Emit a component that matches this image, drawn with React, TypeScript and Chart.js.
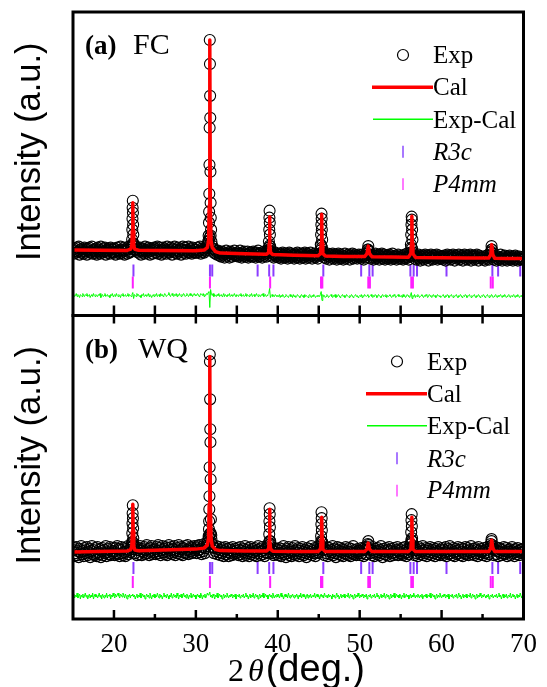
import React, { useEffect, useRef } from "react";
import { Chart, registerables } from "chart.js";
Chart.register(...registerables);

// ---------- data ----------
const X_START = 15;
const X_STEP = 0.1; // scan step of the tabulated experimental / difference curves (15..70)

// Panel (a) FC : experimental scan (background band)
const expBandA = [
  66, 62, 67, 65, 63, 68, 64, 69, 61, 66, 63, 67, 65, 62, 68, 64, 66, 61, 67, 65, 68, 63, 64, 69, 62, 66, 65, 63, 67, 61, 68, 64, 66, 62, 69, 65, 63, 67, 64, 68, 61, 66, 63, 65, 67, 62, 68, 64, 66, 63,
  63, 67, 61, 66, 68, 64, 65, 62, 69, 63, 66, 64, 68, 61, 65, 67, 62, 66, 69, 63, 64, 68, 70, 72, 70, 66, 66, 69, 64, 67, 63, 65, 68, 61, 66, 64, 67, 62, 69, 65, 63, 66, 68, 64, 61, 67, 65, 62, 66, 68,
  67, 63, 66, 69, 62, 65, 68, 64, 61, 66, 68, 63, 67, 65, 62, 69, 64, 66, 63, 68, 65, 61, 67, 64, 69, 63, 66, 62, 68, 65, 64, 67, 61, 66, 69, 63, 65, 68, 62, 66, 64, 69, 63, 67, 65, 62, 68, 64, 66, 63,
  66, 63, 68, 64, 65, 69, 62, 67, 64, 66, 63, 68, 65, 67, 70, 72, 75, 78, 80, 74, 70, 67, 63, 66, 62, 64, 61, 65, 63, 60, 62, 59, 64, 61, 63, 58, 62, 65, 60, 63, 61, 58, 64, 62, 59, 63, 61, 65, 60, 62,
  60, 63, 59, 62, 65, 61, 58, 63, 60, 64, 62, 59, 61, 64, 58, 62, 60, 63, 61, 59, 64, 60, 62, 58, 63, 61, 65, 59, 62, 60, 63, 58, 61, 64, 60, 62, 59, 63, 65, 68, 70, 67, 64, 60, 62, 58, 61, 63, 59, 61,
  61, 58, 62, 59, 57, 61, 63, 60, 58, 62, 59, 61, 57, 60, 63, 58, 62, 60, 59, 61, 57, 62, 60, 58, 63, 59, 61, 57, 60, 62, 58, 61, 59, 63, 57, 60, 62, 58, 61, 59, 63, 60, 57, 61, 59, 62, 58, 60, 61, 57,
  60, 62, 65, 70, 68, 64, 61, 58, 61, 57, 60, 62, 59, 56, 61, 58, 60, 62, 57, 59, 61, 58, 56, 60, 62, 59, 57, 61, 58, 60, 56, 59, 62, 57, 60, 58, 61, 59, 56, 60, 58, 62, 57, 59, 61, 58, 60, 57, 59, 61,
  58, 60, 57, 61, 59, 56, 60, 58, 62, 62, 66, 65, 61, 57, 59, 61, 58, 56, 60, 62, 57, 59, 58, 61, 56, 60, 58, 62, 57, 59, 61, 56, 58, 60, 57, 59, 61, 58, 56, 60, 62, 57, 59, 58, 60, 56, 59, 61, 57, 58,
  59, 57, 60, 56, 58, 61, 57, 59, 62, 58, 56, 60, 63, 68, 67, 63, 60, 57, 59, 56, 60, 58, 61, 57, 55, 59, 58, 60, 56, 59, 61, 57, 58, 60, 55, 59, 57, 61, 58, 56, 60, 57, 59, 58, 61, 56, 58, 60, 57, 59,
  57, 59, 56, 60, 58, 55, 59, 61, 57, 58, 60, 56, 59, 57, 61, 58, 55, 60, 57, 59, 58, 61, 56, 59, 57, 60, 55, 58, 61, 57, 59, 56, 60, 58, 57, 61, 55, 59, 58, 60, 56, 59, 57, 61, 58, 55, 60, 57, 59, 58,
  58, 56, 59, 55, 58, 60, 57, 59, 56, 60, 63, 66, 62, 59, 56, 58, 60, 55, 57, 59, 56, 58, 61, 57, 55, 59, 57, 60, 56, 58, 55, 59, 57, 60, 56, 58, 57, 55, 59, 57, 60, 56, 58, 55, 57, 59, 56, 58, 57, 56,
  57,
];
// Panel (a): experimental points on the Bragg peaks [2theta, intensity]
const expPeaksA = [
  [22.22, 76], [22.24, 86], [22.26, 97], [22.28, 108], [22.3, 115], [22.32, 103], [22.34, 91], [22.36, 81], [22.4, 72],
  [31.5, 74], [31.56, 80], [31.6, 93], [31.62, 104], [31.64, 122], [31.66, 151], [31.68, 188], [31.7, 276], [31.72, 252],
  [31.74, 220], [31.76, 198], [31.78, 144], [31.8, 113], [31.82, 98], [31.86, 86],
  [38.92, 74], [38.96, 86], [38.98, 98], [39.0, 105], [39.02, 93], [39.04, 81], [39.08, 69],
  [45.25, 71], [45.29, 81], [45.32, 91], [45.34, 102], [45.36, 97], [45.38, 86], [45.42, 76],
  [51.0, 66], [51.05, 69.5], [51.1, 64],
  [56.25, 71], [56.29, 81], [56.32, 91], [56.35, 99], [56.37, 96], [56.4, 86], [56.44, 76],
  [66.05, 64], [66.1, 69.5], [66.15, 66],
];
// Panel (a): calculated profile [2theta, intensity]
const calA = [
  [15, 65.5], [18, 65.4], [21.6, 65.2], [22.05, 66.5], [22.18, 70], [22.25, 85], [22.3, 113], [22.35, 85], [22.42, 70],
  [22.55, 66.3], [23, 65.4], [26, 65.2], [30, 64.8], [31.0, 65.5], [31.4, 68], [31.55, 75], [31.63, 110], [31.7, 276],
  [31.77, 110], [31.85, 75], [32.0, 68], [32.4, 64], [33, 62.5], [36, 61.8], [38.6, 61.3], [38.88, 63], [38.96, 72],
  [39.0, 99], [39.04, 72], [39.12, 63], [39.4, 61], [42, 60.3], [44.9, 59.8], [45.22, 62], [45.3, 72], [45.36, 101.5],
  [45.42, 72], [45.5, 62], [45.8, 59.6], [48, 59.2], [50.6, 59], [50.9, 62], [51.05, 69.5], [51.2, 62], [51.5, 58.8],
  [54, 58.5], [55.95, 58.4], [56.25, 62], [56.32, 72], [56.37, 99.3], [56.42, 72], [56.5, 62], [56.8, 58.2], [60, 57.9],
  [63, 57.6], [65.75, 57.5], [66.0, 61], [66.12, 71], [66.25, 61], [66.5, 57.3], [68, 57.1], [70, 57],
];
// Panel (a): difference curve
const diffA = [
  20, 21, 19, 20, 22, 19, 21, 20, 18, 21, 20, 19, 22, 20, 19, 21, 20, 22, 19, 20, 21, 18, 20, 21, 19, 22, 20, 19, 21, 20, 19, 21, 20, 22, 18, 20, 21, 19, 20, 22, 19, 20, 21, 19, 20, 18, 21, 20, 22, 19,
  20, 21, 19, 22, 20, 19, 21, 20, 18, 21, 20, 22, 19, 20, 21, 19, 20, 22, 19, 21, 20, 19, 21, 23, 17, 21, 20, 19, 22, 20, 21, 19, 20, 18, 21, 20, 22, 19, 20, 21, 19, 20, 22, 19, 21, 20, 18, 20, 21, 19,
  21, 20, 22, 19, 20, 21, 19, 22, 20, 21, 19, 20, 22, 21, 19, 20, 21, 23, 20, 19, 21, 22, 20, 19, 21, 20, 22, 19, 21, 20, 22, 20, 19, 21, 20, 22, 21, 19, 20, 22, 21, 19, 20, 22, 20, 21, 19, 21, 22, 20,
  21, 20, 22, 21, 19, 20, 22, 21, 20, 22, 19, 21, 20, 22, 21, 23, 24, 8, 26, 21, 20, 22, 19, 21, 20, 19, 21, 20, 22, 19, 20, 21, 19, 20, 22, 19, 21, 20, 19, 21, 20, 22, 19, 20, 21, 19, 20, 22, 20, 19,
  21, 20, 19, 21, 20, 22, 19, 20, 21, 19, 20, 22, 19, 21, 20, 19, 21, 20, 22, 19, 20, 21, 19, 20, 22, 20, 19, 21, 20, 19, 21, 20, 22, 19, 20, 21, 19, 20, 21, 22, 27, 18, 20, 21, 19, 20, 19, 21, 20, 19,
  20, 19, 21, 18, 20, 19, 21, 20, 18, 19, 21, 20, 19, 18, 20, 21, 19, 20, 18, 21, 19, 20, 18, 19, 21, 20, 19, 18, 20, 21, 19, 20, 18, 21, 19, 20, 19, 18, 20, 21, 19, 18, 20, 19, 21, 20, 18, 19, 20, 19,
  20, 19, 21, 24, 15, 21, 19, 20, 18, 19, 21, 20, 18, 19, 20, 21, 19, 18, 20, 19, 21, 18, 20, 19, 21, 20, 18, 19, 20, 21, 19, 20, 18, 19, 21, 20, 19, 18, 20, 19, 21, 20, 18, 19, 20, 21, 19, 20, 18, 19,
  20, 19, 21, 18, 20, 19, 21, 20, 19, 20, 21, 18, 19, 20, 21, 19, 18, 20, 19, 21, 20, 18, 19, 21, 20, 19, 18, 20, 21, 19, 20, 19, 21, 18, 20, 19, 20, 21, 19, 18, 20, 19, 21, 20, 18, 19, 20, 21, 19, 20,
  19, 20, 18, 21, 19, 20, 18, 19, 21, 20, 19, 18, 20, 23, 17, 20, 19, 21, 18, 20, 19, 21, 20, 18, 19, 20, 21, 19, 18, 20, 19, 21, 20, 18, 19, 21, 20, 19, 18, 20, 21, 19, 20, 18, 19, 21, 20, 19, 20, 18,
  19, 20, 21, 19, 18, 20, 19, 21, 20, 18, 19, 20, 21, 19, 18, 20, 19, 20, 21, 19, 18, 20, 19, 21, 20, 18, 19, 20, 19, 21, 20, 18, 19, 20, 21, 19, 18, 20, 19, 20, 21, 19, 18, 20, 19, 21, 20, 18, 19, 20,
  19, 21, 20, 18, 19, 20, 21, 19, 18, 20, 19, 21, 20, 18, 19, 20, 21, 19, 18, 20, 19, 20, 21, 19, 18, 20, 19, 21, 20, 18, 19, 20, 21, 19, 18, 20, 19, 20, 21, 19, 18, 20, 19, 21, 20, 18, 19, 20, 19, 21,
  20,
];

// Panel (b) WQ
const expBandB = [
  69, 63, 71, 66, 72, 64, 68, 62, 70, 67, 73, 65, 68, 63, 71, 66, 69, 72, 64, 67, 70, 62, 68, 73, 65, 69, 64, 71, 66, 63, 72, 67, 65, 70, 62, 68, 71, 64, 69, 66, 73, 63, 67, 70, 65, 72, 64, 68, 66, 71,
  68, 64, 71, 66, 73, 65, 70, 63, 69, 72, 66, 64, 71, 67, 63, 70, 68, 73, 65, 69, 67, 72, 75, 77, 74, 70, 66, 72, 64, 69, 71, 65, 73, 68, 64, 70, 67, 72, 65, 69, 74, 66, 70, 64, 71, 68, 73, 65, 69, 67,
  70, 65, 72, 68, 74, 66, 71, 64, 69, 73, 67, 70, 65, 72, 68, 64, 71, 74, 66, 69, 72, 65, 70, 67, 73, 64, 69, 71, 66, 74, 68, 65, 72, 70, 64, 71, 67, 73, 66, 69, 74, 65, 70, 68, 72, 66, 71, 67, 73, 69,
  71, 66, 73, 69, 74, 67, 70, 65, 72, 68, 75, 66, 71, 73, 76, 79, 82, 85, 86, 80, 75, 72, 66, 71, 68, 73, 65, 70, 67, 72, 64, 69, 66, 71, 63, 68, 72, 65, 70, 67, 63, 71, 66, 69, 64, 72, 67, 65, 70, 68,
  66, 71, 64, 69, 72, 65, 68, 63, 70, 67, 73, 64, 69, 66, 71, 63, 68, 72, 65, 70, 67, 64, 71, 68, 63, 69, 73, 66, 70, 64, 68, 72, 65, 69, 63, 71, 67, 66, 72, 76, 78, 75, 70, 66, 69, 64, 71, 67, 65, 70,
  69, 64, 71, 66, 63, 70, 67, 73, 65, 68, 62, 70, 66, 72, 64, 69, 67, 63, 71, 65, 68, 73, 64, 69, 66, 71, 63, 68, 70, 65, 72, 67, 64, 69, 66, 62, 71, 68, 65, 70, 67, 73, 64, 68, 66, 71, 63, 69, 67, 72,
  66, 70, 74, 78, 77, 72, 69, 64, 70, 66, 72, 63, 68, 71, 65, 69, 67, 73, 64, 70, 66, 62, 69, 72, 65, 68, 71, 64, 67, 70, 63, 69, 66, 72, 65, 68, 64, 71, 67, 63, 70, 66, 73, 65, 69, 67, 64, 70, 68, 66,
  68, 64, 71, 66, 70, 63, 69, 72, 65, 71, 75, 74, 70, 66, 69, 64, 72, 67, 63, 70, 68, 65, 71, 67, 64, 69, 73, 66, 62, 70, 68, 65, 71, 64, 69, 67, 72, 63, 68, 70, 66, 64, 71, 67, 65, 69, 72, 64, 68, 66,
  69, 65, 71, 64, 68, 72, 66, 63, 70, 67, 65, 70, 75, 79, 78, 73, 69, 64, 71, 66, 69, 63, 72, 67, 65, 70, 68, 73, 64, 69, 66, 71, 63, 68, 70, 65, 72, 67, 64, 69, 71, 66, 63, 70, 68, 65, 72, 67, 64, 69,
  66, 71, 64, 69, 67, 72, 63, 68, 70, 65, 73, 66, 69, 64, 71, 67, 63, 70, 68, 65, 72, 66, 69, 64, 71, 67, 63, 70, 66, 72, 65, 68, 71, 64, 69, 67, 73, 65, 68, 70, 64, 71, 66, 69, 63, 72, 68, 65, 70, 67,
  68, 64, 71, 66, 69, 63, 72, 67, 65, 71, 75, 78, 74, 70, 64, 69, 72, 65, 68, 63, 71, 67, 70, 64, 69, 66, 72, 65, 68, 71, 63, 69, 67, 70, 64, 68, 72, 66, 69, 63, 70, 67, 65, 71, 68, 64, 69, 66, 70, 67,
  68,
];
const expPeaksB = [
  [22.22, 77], [22.24, 86], [22.26, 96], [22.28, 106], [22.3, 114], [22.32, 101], [22.34, 91], [22.36, 81], [22.4, 73],
  [31.5, 77], [31.56, 83], [31.6, 90], [31.62, 98], [31.64, 110], [31.66, 123], [31.68, 152], [31.7, 265], [31.72, 258],
  [31.74, 220], [31.76, 190], [31.78, 177], [31.8, 140], [31.84, 100], [31.88, 84],
  [38.92, 74], [38.96, 85], [38.98, 98], [39.0, 111], [39.02, 105], [39.04, 92], [39.08, 78],
  [45.25, 72], [45.29, 83], [45.32, 95], [45.34, 107], [45.36, 101], [45.38, 89], [45.42, 77],
  [51.0, 72], [51.05, 78], [51.1, 70],
  [56.25, 75], [56.29, 87], [56.32, 99], [56.35, 105], [56.37, 93], [56.4, 81], [56.44, 72],
  [66.05, 73], [66.1, 80], [66.15, 71],
];
const calB = [
  [15, 67], [18, 67.5], [21.6, 68], [22.05, 69.5], [22.18, 73], [22.25, 88], [22.3, 115], [22.35, 88], [22.42, 73],
  [22.55, 69], [23, 68.3], [26, 69], [30, 70], [31.0, 71], [31.4, 74], [31.55, 81], [31.63, 115], [31.7, 263],
  [31.77, 115], [31.85, 81], [32.0, 73], [32.4, 69.5], [33, 68.5], [36, 68], [38.6, 68], [38.88, 70], [38.96, 79],
  [39.0, 110], [39.04, 79], [39.12, 70], [39.4, 67.8], [42, 67.5], [44.9, 67.5], [45.22, 70], [45.3, 80], [45.36, 102],
  [45.42, 80], [45.5, 70], [45.8, 67.5], [48, 67.5], [50.6, 67.5], [50.9, 70], [51.05, 76], [51.2, 70], [51.5, 67.5],
  [54, 67.5], [55.95, 67.5], [56.25, 70], [56.32, 80], [56.37, 102], [56.42, 80], [56.5, 70], [56.8, 67.5], [60, 67.5],
  [63, 67.5], [65.75, 67.5], [66.0, 71], [66.12, 79], [66.25, 71], [66.5, 67.5], [68, 67.5], [70, 67.5],
];
const diffB = [
  23, 25, 21, 24, 22, 26, 21, 23, 25, 20, 24, 22, 25, 21, 23, 26, 22, 24, 20, 23, 25, 21, 24, 22, 26, 20, 23, 25, 22, 24, 21, 23, 26, 22, 24, 20, 25, 23, 21, 24, 22, 26, 21, 24, 23, 25, 20, 24, 22, 26,
  23, 21, 25, 22, 24, 26, 23, 21, 25, 24, 22, 26, 24, 21, 25, 23, 20, 24, 22, 25, 21, 24, 23, 25, 22, 24, 20, 23, 25, 21, 24, 22, 26, 21, 23, 25, 22, 24, 20, 23, 25, 22, 24, 21, 26, 23, 20, 24, 22, 25,
  21, 24, 22, 26, 23, 21, 25, 22, 24, 20, 23, 26, 22, 24, 21, 25, 23, 20, 24, 22, 26, 21, 23, 25, 22, 24, 21, 26, 23, 20, 24, 22, 25, 21, 23, 26, 22, 24, 21, 25, 23, 20, 24, 22, 26, 21, 23, 25, 22, 24,
  20, 23, 25, 22, 24, 21, 26, 23, 20, 24, 22, 25, 21, 23, 26, 24, 25, 27, 22, 24, 21, 25, 23, 20, 24, 22, 26, 21, 23, 25, 22, 24, 20, 23, 25, 21, 24, 22, 26, 23, 21, 24, 22, 25, 23, 21, 24, 22, 25, 20,
  23, 24, 22, 25, 21, 23, 24, 22, 25, 21, 23, 26, 22, 24, 20, 23, 25, 21, 24, 22, 26, 21, 23, 25, 22, 24, 20, 23, 25, 21, 24, 22, 26, 21, 23, 25, 22, 24, 20, 23, 25, 22, 24, 21, 26, 23, 21, 24, 22, 25,
  22, 25, 21, 23, 26, 22, 24, 20, 23, 25, 22, 24, 21, 26, 23, 21, 24, 22, 25, 23, 21, 24, 22, 25, 23, 20, 24, 22, 26, 21, 23, 25, 22, 24, 20, 23, 25, 21, 24, 22, 25, 21, 23, 24, 22, 26, 21, 23, 25, 22,
  24, 20, 23, 25, 22, 24, 21, 26, 23, 22, 24, 21, 25, 22, 24, 23, 20, 25, 22, 24, 21, 23, 26, 22, 24, 20, 23, 25, 21, 24, 22, 25, 21, 23, 24, 22, 26, 21, 23, 25, 22, 24, 20, 23, 25, 21, 24, 22, 26, 23,
  21, 24, 22, 25, 23, 21, 24, 22, 25, 20, 23, 24, 22, 25, 21, 23, 24, 22, 25, 21, 23, 26, 22, 24, 20, 23, 25, 21, 24, 22, 26, 21, 23, 25, 22, 24, 20, 23, 25, 21, 24, 22, 26, 21, 23, 25, 22, 24, 21, 25,
  23, 20, 24, 22, 26, 21, 23, 25, 22, 24, 20, 23, 25, 21, 24, 22, 26, 23, 21, 24, 22, 25, 23, 21, 24, 22, 25, 20, 23, 24, 22, 25, 21, 23, 24, 22, 26, 21, 23, 25, 22, 24, 20, 23, 25, 21, 24, 22, 26, 23,
  21, 24, 22, 25, 23, 21, 24, 22, 25, 20, 23, 24, 22, 25, 21, 23, 24, 22, 25, 21, 23, 26, 22, 24, 20, 23, 25, 21, 24, 22, 25, 21, 23, 24, 22, 26, 21, 23, 25, 22, 24, 20, 23, 25, 21, 24, 22, 26, 23, 21,
  24, 22, 25, 23, 21, 24, 22, 25, 20, 23, 24, 22, 25, 21, 23, 24, 22, 25, 21, 23, 26, 22, 24, 20, 23, 25, 21, 24, 22, 25, 21, 23, 24, 22, 26, 21, 23, 25, 22, 24, 20, 23, 25, 21, 24, 22, 26, 23, 21, 24,
  22,
];

// Bragg reflection positions (2theta)
const r3cPos = [22.38, 31.72, 32.0, 37.54, 38.95, 39.47, 45.56, 50.18, 51.18, 51.58, 56.19, 56.59, 57.0, 60.6, 66.2, 66.9, 69.6];
const p4mmPos = [22.3, 31.72, 39.07, 45.28, 45.44, 51.05, 51.25, 56.3, 56.5, 66.0, 66.25];
// Reflection-marker rows (intensity level) per panel
const r3cRow = [45, 51];
const p4mmRow = [33, 37];

// Axis ticks / labels
const xMajorTicks = [20, 30, 40, 50, 60, 70];
const xMinorTicks = [25, 35, 45, 55, 65];
const panelTags = ["(a)", "(b)"];
const panelNames = ["FC", "WQ"];
const legendLabels = ["Exp", "Cal", "Exp-Cal", "R3c", "P4mm"];
const yTitle = "Intensity (a.u.)";
const xTitleParts = ["2", "\u03b8", "(deg.)"];

// ---------- styling ----------
const SERIF = '"Liberation Serif", "Times New Roman", serif';
const SANS = '"Liberation Sans", Arial, sans-serif';
const RED = "#ff0000";
const GREEN = "#00ff00";
const R3C_COLOR = "#8b3dff";
const P4MM_COLOR = "#ff1eff";

const bandPts = (arr: number[]) => arr.map((y, i) => ({ x: X_START + i * X_STEP, y }));
const pairPts = (arr: number[][]) => arr.map(([x, y]) => ({ x, y }));

function panelDatasets(axis: string, band: number[], peaks: number[][], cal: number[][], diff: number[], idx: number) {
  return [
    {
      label: "Cal", data: pairPts(cal), yAxisID: axis, showLine: true, borderColor: RED, borderWidth: 3.5,
      borderJoinStyle: "round", pointRadius: 0, order: 0,
    },
    {
      label: "Exp", data: [...bandPts(band), ...pairPts(peaks)], yAxisID: axis, showLine: false,
      pointStyle: "circle", pointRadius: 5.5, pointBorderWidth: 1.1, pointBorderColor: "#000",
      pointBackgroundColor: "rgba(0,0,0,0)", order: 1,
    },
    {
      label: "Exp-Cal", data: bandPts(diff), yAxisID: axis, showLine: true, borderColor: GREEN, borderWidth: 1,
      pointRadius: 0, order: 2,
    },
    {
      label: "R3c", data: r3cPos.map((x) => ({ x, y: r3cRow[idx] })), yAxisID: axis, showLine: false,
      pointStyle: "line", pointRotation: 90, pointRadius: 6, pointBorderWidth: 2, pointBorderColor: R3C_COLOR, order: 2,
    },
    {
      label: "P4mm", data: p4mmPos.map((x) => ({ x, y: p4mmRow[idx] })), yAxisID: axis, showLine: false,
      pointStyle: "line", pointRotation: 90, pointRadius: 6, pointBorderWidth: 2, pointBorderColor: P4MM_COLOR, order: 2,
    },
  ];
}

function line(ctx: CanvasRenderingContext2D, x1: number, y1: number, x2: number, y2: number) {
  ctx.beginPath();
  ctx.moveTo(x1, y1);
  ctx.lineTo(x2, y2);
  ctx.stroke();
}

const decorPlugin = {
  id: "decor",
  afterDatasetsDraw(chart: any) {
    const ctx: CanvasRenderingContext2D = chart.ctx;
    const xs = chart.scales.x;
    const panels = [chart.scales.yTop, chart.scales.yBot];
    const L = chart.chartArea.left;
    const R = chart.chartArea.right;
    ctx.save();
    // frames
    ctx.strokeStyle = "#000";
    ctx.lineWidth = 3;
    for (const p of panels) ctx.strokeRect(L, p.top, R - L, p.bottom - p.top);
    // inner ticks
    ctx.lineWidth = 2.5;
    const all = [...xMajorTicks, ...xMinorTicks].filter((v) => v < 70);
    for (const v of all) {
      const px = xs.getPixelForValue(v);
      const major = xMajorTicks.includes(v);
      line(ctx, px, panels[0].bottom, px, panels[0].bottom - 10);
      line(ctx, px, panels[1].top, px, panels[1].top + 8);
      line(ctx, px, panels[1].bottom, px, panels[1].bottom - (major ? 9 : 5));
    }
    // y titles (rotated)
    panels.forEach((p: any) => {
      ctx.save();
      ctx.translate(30, (p.top + p.bottom) / 2 - 12);
      ctx.rotate(-Math.PI / 2);
      ctx.textAlign = "center";
      ctx.textBaseline = "middle";
      ctx.fillStyle = "#000";
      ctx.font = `34.5px ${SANS}`;
      ctx.fillText(yTitle, 0, 0);
      ctx.restore();
    });
    // panel labels + legends
    const legendX = [433, 427];
    const legendDy = [0, 3];
    panels.forEach((p: any, i: number) => {
      const T = p.top;
      ctx.fillStyle = "#000";
      ctx.textBaseline = "alphabetic";
      ctx.textAlign = "left";
      ctx.font = `bold 27px ${SERIF}`;
      ctx.fillText(panelTags[i], 85, T + 42);
      ctx.font = `30px ${SERIF}`;
      ctx.fillText(panelNames[i], i === 0 ? 133 : 138, T + 42);

      const tx = legendX[i];
      const sx = tx - 30;
      const base = T + legendDy[i];
      const rows = [51.3, 83, 115.7, 148, 179.7];
      // Exp
      ctx.strokeStyle = "#000";
      ctx.lineWidth = 1.2;
      ctx.beginPath();
      ctx.arc(sx, base + rows[0] - 8.3, 5.5, 0, Math.PI * 2);
      ctx.stroke();
      // Cal
      ctx.strokeStyle = RED;
      ctx.lineWidth = 3.5;
      line(ctx, tx - 61, base + rows[1] - 7.7, tx, base + rows[1] - 7.7);
      // Exp-Cal
      ctx.strokeStyle = GREEN;
      ctx.lineWidth = 1.5;
      line(ctx, tx - 60, base + rows[2] - 8.5, tx, base + rows[2] - 8.5);
      // R3c / P4mm markers
      ctx.lineWidth = 2;
      ctx.strokeStyle = "#a878ff";
      line(ctx, sx, base + rows[3] - 14.3, sx, base + rows[3] - 2.3);
      ctx.strokeStyle = "#ff78ff";
      line(ctx, sx, base + rows[4] - 13.4, sx, base + rows[4] - 1.7);
      // texts
      ctx.fillStyle = "#000";
      ctx.font = `25px ${SERIF}`;
      ctx.fillText(legendLabels[0], tx, base + rows[0]);
      ctx.fillText(legendLabels[1], tx, base + rows[1]);
      ctx.fillText(legendLabels[2], tx, base + rows[2]);
      ctx.font = `italic 25px ${SERIF}`;
      ctx.fillText(legendLabels[3], tx, base + rows[3]);
      ctx.fillText(legendLabels[4], tx, base + rows[4]);
    });
    // x-axis title: 2θ(deg.)
    const fonts = [`32px ${SERIF}`, `italic 32px ${SERIF}`, `38px ${SANS}`];
    const gaps = [0, 4, 2];
    let x = 228;
    ctx.fillStyle = "#000";
    ctx.textAlign = "left";
    ctx.textBaseline = "alphabetic";
    xTitleParts.forEach((t, k) => {
      ctx.font = fonts[k];
      x += gaps[k];
      ctx.fillText(t, x, 681);
      x += ctx.measureText(t).width;
    });
    ctx.restore();
  },
};

function yAxis(weight: number) {
  return {
    type: "linear",
    position: "left",
    stack: "panels",
    stackWeight: weight,
    min: 0,
    max: 304,
    ticks: { display: false },
    grid: { display: false, drawTicks: false },
    border: { display: false },
    title: { display: false, text: yTitle },
    afterFit: (s: any) => { s.width = 73; },
  };
}

export default function App() {
  const ref = useRef<HTMLCanvasElement>(null);
  useEffect(() => {
    const chart = new Chart(ref.current as HTMLCanvasElement, {
      type: "scatter",
      data: {
        datasets: [
          ...panelDatasets("yTop", expBandA, expPeaksA, calA, diffA, 0),
          ...panelDatasets("yBot", expBandB, expPeaksB, calB, diffB, 1),
        ] as any,
      },
      options: {
        responsive: false,
        animation: false,
        layout: { padding: { top: 12, right: 17, left: 0, bottom: 0 } },
        plugins: { legend: { display: false }, tooltip: { enabled: false } },
        scales: {
          x: {
            type: "linear",
            min: 15,
            max: 70,
            ticks: {
              stepSize: 10,
              includeBounds: false,
              color: "#000",
              font: { family: SERIF, size: 27 },
              padding: 10,
              maxRotation: 0,
              autoSkip: false,
              callback: (v: any) => (xMajorTicks.includes(Number(v)) ? String(v) : ""),
            },
            grid: { display: false, drawTicks: false },
            border: { display: false },
            afterFit: (s: any) => { s.height = 68; },
          },
          yBot: yAxis(1),
          yTop: yAxis(1),
        } as any,
      },
      plugins: [decorPlugin],
    });
    return () => chart.destroy();
  }, []);
  return (
    <div style={{ position: "fixed", left: 0, top: 0, width: 547, height: 687, background: "#fff" }}>
      <canvas ref={ref} width={547} height={687} style={{ display: "block" }} />
    </div>
  );
}
